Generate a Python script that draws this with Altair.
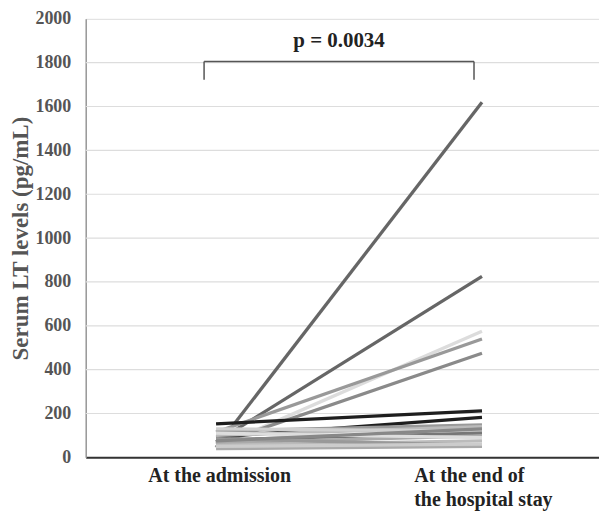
import altair as alt
import pandas as pd

# Serum LT levels (pg/mL) per patient: at admission -> end of hospital stay
admission = [45, 70, 45, 115, 60, 153, 92, 120, 100, 130, 80, 65, 110, 55, 85, 40, 75, 50]
end_stay = [1620, 825, 575, 540, 475, 212, 182, 148, 140, 120, 110, 98, 90, 75, 55, 50, 130, 60]
colors = ["#666666", "#666666", "#dcdcdc", "#999999", "#8a8a8a", "#1e1e1e", "#1e1e1e",
          "#9a9a9a", "#bbbbbb", "#d0d0d0", "#777777", "#aaaaaa", "#dddddd", "#bbbbbb",
          "#999999", "#aaaaaa", "#888888", "#cccccc"]
time_pos = [0, 1]
time_labels = ["At the admission", "At the end of\nthe hospital stay"]
y_ticks = [0, 200, 400, 600, 800, 1000, 1200, 1400, 1600, 1800, 2000]
grid_values = [200, 400, 600, 800, 1000, 1200, 1400, 1600, 1800]
p_text = "p = 0.0034"
bracket_x = [-0.045, 0.97]
bracket_top = 1805
bracket_bottom = 1722

rows = []
for i, (a, e, c) in enumerate(zip(admission, end_stay, colors)):
    rows.append({"pid": i, "t": 0, "v": a, "c": c})
    rows.append({"pid": i, "t": 1, "v": e, "c": c})
df = pd.DataFrame(rows)

xscale = alt.Scale(domain=[-0.49, 1.44], nice=False, zero=False)
yscale = alt.Scale(domain=[0, 2000], nice=False)

grid = alt.Chart(pd.DataFrame({"g": grid_values})).mark_rule(
    color="#dddddd", strokeWidth=1.2
).encode(y=alt.Y("g:Q", scale=yscale))

lines = alt.Chart(df).mark_line(strokeWidth=3.3, strokeCap="butt").encode(
    x=alt.X("t:Q", scale=xscale,
            axis=alt.Axis(values=[0, 1], title=None, ticks=False, grid=False, labels=False,
                          domainColor="#333333", domainWidth=2)),
    y=alt.Y("v:Q", scale=yscale,
            axis=alt.Axis(values=y_ticks, format="d", title="Serum LT levels (pg/mL)", grid=False,
                          ticks=False, domainColor="#999999", domainWidth=1.5,
                          labelFont="Liberation Serif", labelFontSize=18,
                          labelFontWeight="bold", labelColor="#555555",
                          labelPadding=15,
                          titleFont="Liberation Serif", titleFontSize=23,
                          titleFontWeight="bold", titleColor="#555555",
                          titlePadding=2)),
    detail="pid:N",
    color=alt.Color("c:N", scale=None),
)

xl = alt.Chart(pd.DataFrame({"x": time_pos, "lab": time_labels})).mark_text(
    font="Liberation Serif", fontSize=20, fontWeight="bold", color="#222222",
    align="left", baseline="top", dx=-68, dy=9, lineBreak="\n", lineHeight=24
).encode(x=alt.X("x:Q", scale=xscale), y=alt.value(440), text="lab:N")

bdf = pd.DataFrame({"x1": [bracket_x[0]], "x2": [bracket_x[1]],
                    "yt": [bracket_top], "yb": [bracket_bottom]})
b_h = alt.Chart(bdf).mark_rule(color="#555555", strokeWidth=1.5).encode(
    x=alt.X("x1:Q", scale=xscale), x2="x2:Q", y=alt.Y("yt:Q", scale=yscale))
b_l = alt.Chart(bdf).mark_rule(color="#555555", strokeWidth=1.5).encode(
    x=alt.X("x1:Q", scale=xscale), y=alt.Y("yt:Q", scale=yscale), y2="yb:Q")
b_r = alt.Chart(bdf).mark_rule(color="#555555", strokeWidth=1.5).encode(
    x=alt.X("x2:Q", scale=xscale), y=alt.Y("yt:Q", scale=yscale), y2="yb:Q")

ptxt = alt.Chart(pd.DataFrame({"x": [(bracket_x[0] + bracket_x[1]) / 2], "y": [1900], "t": [p_text]})).mark_text(
    font="Liberation Serif", fontSize=21, fontWeight="bold", color="#222222"
).encode(x=alt.X("x:Q", scale=xscale), y=alt.Y("y:Q", scale=yscale), text="t:N")

chart = alt.layer(grid, lines, xl, b_h, b_l, b_r, ptxt).properties(
    width=515, height=440,
    autosize=alt.AutoSizeParams(type="none"),
    padding={"left": 78, "top": 10, "right": 0, "bottom": 55},
).configure_view(stroke=None).configure(background="white")

chart.save("out.html", embed_options={"renderer": "svg", "actions": False})
